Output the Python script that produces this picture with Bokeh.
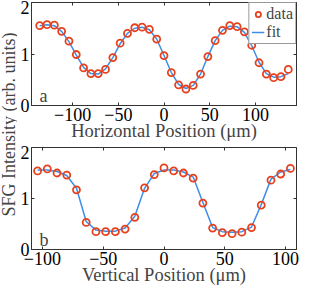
import math
from bokeh.plotting import figure
from bokeh.layouts import row, column
from bokeh.models import (Range1d, LinearAxis, FixedTicker, Label, Legend, LegendItem)
from bokeh.embed import file_html
from bokeh.resources import INLINE

# ---- data ----
xa = [-136, -128, -120, -112, -104, -96, -88, -80, -72, -64, -56, -48, -40, -32, -24, -16, -8,
      0, 8, 16, 24, 32, 40, 48, 56, 64, 72, 80, 88, 96, 104, 112, 120, 128, 136]
ya_data = [1.55, 1.57, 1.56, 1.44, 1.25, 0.99, 0.73, 0.62, 0.62, 0.70, 0.93, 1.21, 1.40, 1.51, 1.52,
           1.48, 1.29, 0.97, 0.64, 0.40, 0.32, 0.39, 0.61, 0.95, 1.26, 1.46, 1.55, 1.53, 1.43, 1.17,
           0.83, 0.61, 0.54, 0.56, 0.70]
ya_fit = [1.55, 1.57, 1.55, 1.44, 1.24, 0.98, 0.74, 0.62, 0.61, 0.71, 0.93, 1.20, 1.40, 1.50, 1.52,
          1.47, 1.29, 0.97, 0.64, 0.41, 0.33, 0.39, 0.61, 0.95, 1.26, 1.46, 1.54, 1.53, 1.42, 1.16,
          0.84, 0.62, 0.55, 0.56, 0.62]

xb = [-104, -96, -88, -80, -72, -64, -56, -48, -40, -32, -24, -16, -8, 0, 8, 16, 24, 32, 40, 48,
      56, 64, 72, 80, 88, 96, 104]
yb_data = [1.54, 1.58, 1.50, 1.46, 1.17, 0.53, 0.35, 0.35, 0.35, 0.40, 0.63, 1.21, 1.47, 1.60,
           1.54, 1.50, 1.40, 0.91, 0.42, 0.33, 0.31, 0.34, 0.43, 0.87, 1.36, 1.48, 1.59]
yb_fit = [1.56, 1.56, 1.53, 1.45, 1.20, 0.55, 0.38, 0.36, 0.36, 0.42, 0.65, 1.20, 1.49, 1.56,
          1.56, 1.52, 1.42, 0.92, 0.43, 0.35, 0.34, 0.35, 0.44, 0.88, 1.38, 1.52, 1.57]

x_ticks = [-100, -50, 0, 50, 100]
y_ticks = [0, 1, 2]
legend_labels = ["data", "fit"]

RED = "#e8401c"
BLUE = "#3d8ee8"
AX = "#333333"
FONT = "Liberation Serif"
FS = "18px"
FS_LAB = "18.5px"


def blank_axis(ticks):
    return LinearAxis(ticker=FixedTicker(ticks=ticks),
                      major_label_overrides={t: "" for t in ticks},
                      major_label_text_font_size="1px",
                      major_tick_in=3, major_tick_out=0, minor_tick_line_color=None,
                      axis_line_color=None, major_tick_line_color=AX, major_label_standoff=0)


def style_panel(p, xlabel, tag):
    p.outline_line_color = AX
    p.outline_line_width = 1
    p.xgrid.visible = False
    p.ygrid.visible = False
    p.background_fill_color = "white"
    p.border_fill_color = "white"
    for ax in p.xaxis + p.yaxis:
        ax.major_tick_in = 3
        ax.major_tick_out = 0
        ax.minor_tick_line_color = None
        ax.axis_line_color = AX
        ax.major_tick_line_color = AX
        ax.major_label_text_font = FONT
        ax.major_label_text_font_size = FS
        ax.major_label_text_color = "black"
        ax.major_label_standoff = 2
    p.xaxis.ticker = FixedTicker(ticks=x_ticks)
    p.yaxis.ticker = FixedTicker(ticks=y_ticks)
    p.xaxis.axis_label = xlabel
    p.xaxis.axis_label_text_font = FONT
    p.xaxis.axis_label_text_font_size = FS_LAB
    p.xaxis.axis_label_text_font_style = "normal"
    p.xaxis.axis_label_standoff = -3
    p.add_layout(blank_axis(x_ticks), "above")
    p.add_layout(blank_axis(y_ticks), "right")
    p.add_layout(Label(x=p.x_range.start, y=0, x_offset=8, y_offset=10, text=tag,
                       text_font=FONT, text_font_size=FS, text_baseline="alphabetic"))


pa = figure(width=307, height=145, output_backend="svg", toolbar_location=None,
            x_range=Range1d(-145, 145), y_range=Range1d(0, 2),
            min_border_left=11, min_border_right=28, min_border_top=2, min_border_bottom=40)
la = pa.line(xa, ya_fit, line_color=BLUE, line_width=1.5)
ca = pa.scatter(xa, ya_data, marker="circle", size=7, fill_color=None, line_color=RED, line_width=1.8)
style_panel(pa, "Horizontal Position (\u03bcm)", "a")

leg = Legend(items=[LegendItem(label=legend_labels[0], renderers=[ca]),
                    LegendItem(label=legend_labels[1], renderers=[la])],
             location="top_right")
leg.label_text_font = FONT
leg.label_text_font_size = "16px"
leg.border_line_color = AX
leg.border_line_width = 1
leg.background_fill_color = "white"
leg.background_fill_alpha = 1
leg.padding = 2
leg.spacing = 0
leg.margin = 0
leg.glyph_width = 13
leg.glyph_height = 16
leg.label_standoff = 2
leg.label_height = 16
pa.add_layout(leg, "center")

pb = figure(width=307, height=144, output_backend="svg", toolbar_location=None,
            x_range=Range1d(-109, 109), y_range=Range1d(0, 2),
            min_border_left=11, min_border_right=28, min_border_top=2, min_border_bottom=40)
pb.line(xb, yb_fit, line_color=BLUE, line_width=1.5)
pb.scatter(xb, yb_data, marker="circle", size=7, fill_color=None, line_color=RED, line_width=1.8)
style_panel(pb, "Vertical Position (\u03bcm)", "b")

lab = figure(width=17, height=289, output_backend="svg", toolbar_location=None,
             x_range=Range1d(0, 1), y_range=Range1d(0, 1),
             min_border=0, x_axis_location=None, y_axis_location=None)
lab.outline_line_color = None
lab.xgrid.visible = False
lab.ygrid.visible = False
lab.add_layout(Label(x=0.5, y=0.571, text="SFG Intensity (arb. units)", angle=math.pi / 2,
                     text_align="center", text_baseline="middle",
                     text_font=FONT, text_font_size="18px"))

layout = row(lab, column(pa, pb))
open("out.html", "w").write(file_html(layout, INLINE))
